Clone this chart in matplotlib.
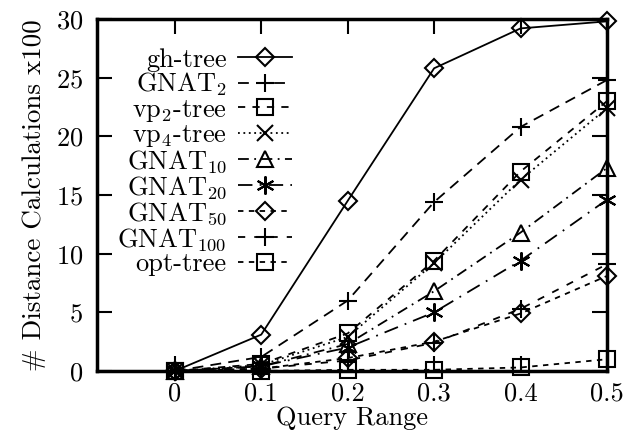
import numpy as np
import matplotlib.pyplot as plt

plt.rcParams['font.family'] = 'cmr10'
plt.rcParams['mathtext.fontset'] = 'cm'
plt.rcParams['axes.formatter.use_mathtext'] = True

# Query range values
x = [0, 0.1, 0.2, 0.3, 0.4, 0.5]

# distance calculations x100
gh_tree = [0, 3.1, 14.5, 25.8, 29.2, 29.8]
gnat2 = [0, 1.2, 6.0, 14.4, 20.8, 24.8]
vp2_tree = [0, 0.6, 3.2, 9.4, 17.0, 23.0]
vp4_tree = [0, 0.5, 2.9, 9.2, 16.3, 22.4]
gnat10 = [0, 0.4, 2.3, 6.8, 11.8, 17.3]
gnat20 = [0, 0.4, 2.0, 5.0, 9.4, 14.6]
gnat50 = [0, 0.2, 1.1, 2.5, 4.9, 8.1]
gnat100 = [0, 0.2, 0.9, 2.4, 5.3, 9.1]
opt_tree = [0, 0.0, 0.1, 0.1, 0.3, 1.0]

labels = ["gh-tree", r"GNAT$_2$", r"vp$_2$-tree", r"vp$_4$-tree", r"GNAT$_{10}$",
          r"GNAT$_{20}$", r"GNAT$_{50}$", r"GNAT$_{100}$", "opt-tree"]
series = [gh_tree, gnat2, vp2_tree, vp4_tree, gnat10, gnat20, gnat50, gnat100, opt_tree]

asterisk = (6, 2, 0)
styles = [
    dict(marker='D', ls='-', ms=9.5),
    dict(marker='+', ls=(0, (6, 4)), ms=13),
    dict(marker='s', ls=(0, (4, 4)), ms=12),
    dict(marker='x', ls=(0, (1, 2)), ms=11),
    dict(marker='^', ls=(0, (6, 3, 1, 3)), ms=12),
    dict(marker=asterisk, ls=(0, (8, 4, 1, 4)), ms=13),
    dict(marker='D', ls=(0, (3, 3)), ms=9.5),
    dict(marker='+', ls=(0, (4, 5)), ms=13),
    dict(marker='s', ls=(0, (3, 3)), ms=12),
]

fig = plt.figure(figsize=(6.23, 4.34), dpi=100)
ax = fig.add_axes([0.1557, 0.1452, 0.8186, 0.811])

for y, lab, st in zip(series, labels, styles):
    ax.plot(x, y, color='black', lw=1.3, marker=st['marker'], ms=st['ms'],
            mfc='none', mec='black', mew=1.5, linestyle=st['ls'], label=lab,
            clip_on=False)

ax.set_xlim(-0.09, 0.5)
ax.set_ylim(0, 30)
ax.set_xticks(x)
ax.set_xticklabels(["0", "0.1", "0.2", "0.3", "0.4", "0.5"])
ax.set_yticks([0, 5, 10, 15, 20, 25, 30])
ax.tick_params(direction='in', length=11, width=1.5, top=True, right=True,
               labelsize=19, pad=10)
ax.tick_params(axis='x', pad=8)
for s in ax.spines.values():
    s.set_linewidth(2.5)

ax.set_xlabel("Query Range", fontsize=19, labelpad=0)
ax.set_ylabel("# Distance Calculations x100", fontsize=19.5, labelpad=7)

ax.legend(loc='upper right', bbox_to_anchor=(292 / 623, (434 - 48) / 434),
          bbox_transform=fig.transFigure, frameon=False,
          markerfirst=False, fontsize=19, handlelength=2.05, labelspacing=-0.03,
          borderaxespad=0, borderpad=0, handletextpad=0.42)

fig.savefig("out.png", dpi=100)
